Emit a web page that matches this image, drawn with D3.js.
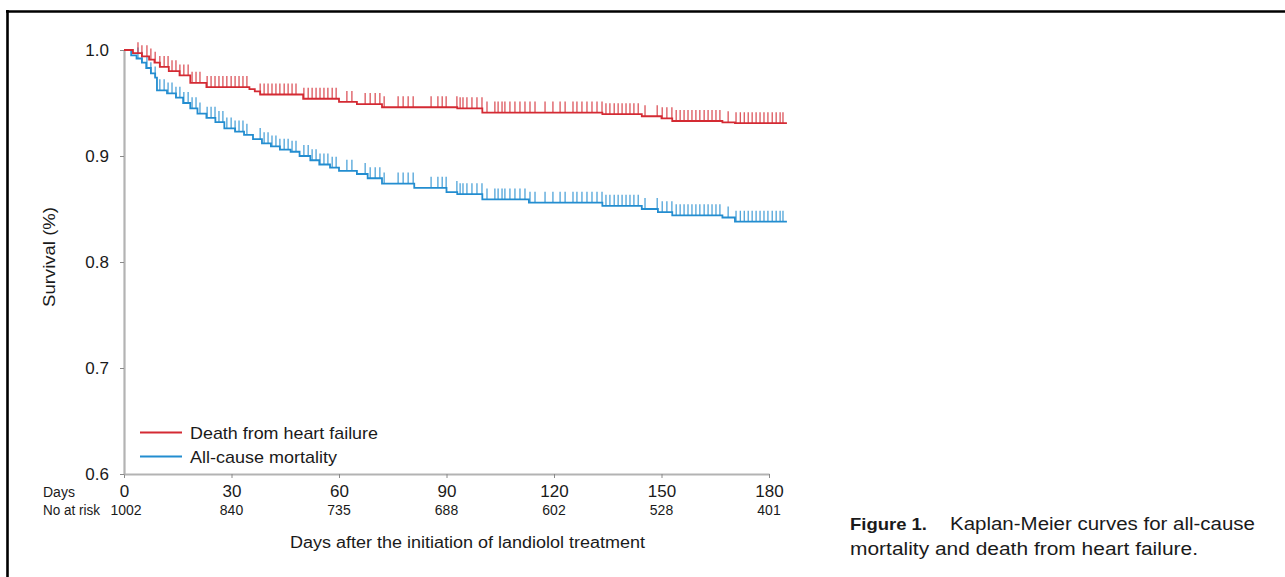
<!DOCTYPE html>
<html>
<head>
<meta charset="utf-8">
<script src="https://cdn.jsdelivr.net/npm/d3@7"></script>
<style>
  html, body { margin: 0; padding: 0; background: #fff; }
  svg { display: block; }
  text { font-family: "Liberation Sans", Arial, Helvetica, sans-serif; fill: #1a1a1a; }
</style>
</head>
<body>
<svg id="chart" width="1285" height="577"></svg>
<script>
// ---------------- DATA ----------------
const xTicks = [0, 30, 60, 90, 120, 150, 180];
const yTicks = [0.6, 0.7, 0.8, 0.9, 1.0];
const atRisk = [1002, 840, 735, 688, 602, 528, 401];
const endDay = 185;

// Death from heart failure: step times (days) and survival after each step
const hfTimes = [0, 2.5, 5, 7, 8.5, 10, 12.5, 15.5, 18.5, 23, 35, 36.5, 38, 50, 60, 65, 72, 93, 100, 133.5, 144.5, 150, 153, 167, 170.5];
const hfSurv  = [1.0, 0.997, 0.994, 0.991, 0.988, 0.984, 0.980, 0.976, 0.969, 0.965, 0.963, 0.961, 0.958, 0.954, 0.951, 0.949, 0.946, 0.945, 0.941, 0.9395, 0.9375, 0.9355, 0.933, 0.9318, 0.931];

// All-cause mortality
const acTimes = [0, 2, 3.5, 5, 6.2, 7.5, 8.7, 9.2, 12, 14.5, 16.5, 18.5, 20.5, 23, 25.5, 28, 31, 33.5, 36, 38.5, 41, 43.5, 46.5, 49, 52, 54.5, 57.5, 60, 65, 68, 72, 81, 90, 93, 100, 113, 133.5, 144.5, 149, 153, 167, 170.5];
const acSurv  = [1.0, 0.995, 0.992, 0.988, 0.983, 0.978, 0.974, 0.962, 0.959, 0.955, 0.950, 0.945, 0.940, 0.936, 0.932, 0.926, 0.923, 0.920, 0.916, 0.912, 0.909, 0.906, 0.904, 0.900, 0.896, 0.892, 0.889, 0.886, 0.883, 0.879, 0.874, 0.870, 0.866, 0.864, 0.859, 0.856, 0.853, 0.850, 0.847, 0.844, 0.842, 0.838];

// Censoring times (days), shared by both curves
const censorTimes = [3.9, 5.0, 6.4, 7.5, 8.7,
  10.0, 11.2, 12.3, 13.4, 14.5, 15.6, 16.7, 17.9, 19.0, 20.1, 21.2,
  23.2, 24.3, 25.4, 26.5, 27.6, 28.7, 29.9, 31.0, 32.1, 33.2, 34.3,
  38.0, 39.1, 40.2, 41.3, 42.4, 43.5, 44.7, 45.8, 46.9, 48.0,
  50.2, 51.4, 52.5, 53.6, 54.7, 55.8, 56.9, 58.1, 59.2,
  62.2, 63.6, 67.3, 68.7, 70.1, 71.4, 72.6,
  76.5, 77.9, 79.3, 80.7, 85.7, 87.6, 88.8, 89.9,
  92.9, 93.8, 94.6, 95.7, 97.1, 98.5, 99.9,
  101.3, 103.5, 104.4, 105.5, 106.3, 107.7, 109.1, 110.5, 111.9, 113.3, 114.7,
  117.5, 119.7, 121.7, 123.1, 125.3, 126.4, 127.8, 129.2, 130.6, 132.0, 133.4,
  134.5, 135.6, 136.8, 137.9, 139.0, 140.1, 141.2, 142.3, 143.5,
  145.4, 148.8, 150.2, 151.5, 152.9,
  154.1, 155.2, 156.3, 157.4, 158.5, 159.6, 160.7, 161.9, 163.0, 164.1, 165.2, 166.3,
  168.6, 170.8, 172.0, 173.1, 174.2, 175.3, 176.4, 177.5, 178.6, 179.7, 180.9, 182.0, 183.1, 183.9];

const seriesNames = ["Death from heart failure", "All-cause mortality"];
const seriesColors = ["#d42a33", "#238dd0"];

// ---------------- CHART ----------------
const svg = d3.select("#chart");
const x = d3.scaleLinear().domain([0, 180]).range([124, 769]);
const y = d3.scaleLinear().domain([0.6, 1.0]).range([474, 50]);

// frame (top + left borders)
svg.append("line").attr("x1", 6).attr("x2", 1285).attr("y1", 11.5).attr("y2", 11.5)
  .attr("stroke", "#000").attr("stroke-width", 2.6);
svg.append("line").attr("x1", 7.5).attr("x2", 7.5).attr("y1", 10).attr("y2", 577)
  .attr("stroke", "#000").attr("stroke-width", 2.6);

// axes
const gx = svg.append("g").attr("transform", `translate(0,${y(0.6)})`)
  .call(d3.axisBottom(x).tickValues(xTicks).tickSize(4).tickSizeOuter(0).tickPadding(7).tickFormat(d3.format("d")));
const gy = svg.append("g").attr("transform", `translate(${x(0)},0)`)
  .call(d3.axisLeft(y).tickValues(yTicks).tickSize(4).tickSizeOuter(0).tickPadding(11).tickFormat(d3.format(".1f")));
[gx, gy].forEach(g => {
  g.select(".domain").attr("stroke", "#b3b3b3").attr("stroke-width", 2.2);
  g.selectAll(".tick line").attr("stroke", "#8a8a8a").attr("stroke-width", 1);
  g.selectAll(".tick text").attr("font-size", 17).attr("fill", "#1a1a1a")
    .attr("font-family", '"Liberation Sans", Arial, sans-serif');
});

// step-function helper
function survAt(times, surv, t) {
  let s = surv[0];
  for (let i = 0; i < times.length; i++) { if (times[i] <= t) s = surv[i]; else break; }
  return s;
}

const series = [
  { times: hfTimes, surv: hfSurv, color: seriesColors[0] },
  { times: acTimes, surv: acSurv, color: seriesColors[1] }
];

const line = d3.line().x(d => x(d[0])).y(d => y(d[1])).curve(d3.curveStepAfter);

// draw all-cause first then heart failure on top
[series[1], series[0]].forEach(s => {
  const pts = s.times.map((t, i) => [t, s.surv[i]]);
  pts.push([endDay, s.surv[s.surv.length - 1]]);
  const g = svg.append("g");
  g.selectAll("line.cens").data(censorTimes).enter().append("line")
    .attr("class", "cens")
    .attr("x1", d => x(d)).attr("x2", d => x(d))
    .attr("y1", d => y(survAt(s.times, s.surv, d)))
    .attr("y2", d => y(survAt(s.times, s.surv, d)) - 11)
    .attr("stroke", s.color).attr("stroke-width", 1.3).attr("opacity", 0.8);
  g.append("path").datum(pts).attr("d", line)
    .attr("fill", "none").attr("stroke", s.color).attr("stroke-width", 1.8);
});

// legend
const legY = [432.5, 456.5];
seriesNames.forEach((name, i) => {
  svg.append("line").attr("x1", 140).attr("x2", 182).attr("y1", legY[i]).attr("y2", legY[i])
    .attr("stroke", seriesColors[i]).attr("stroke-width", 2.2);
  svg.append("text").attr("x", 190).attr("y", legY[i] + 6).attr("font-size", 17)
    .attr("textLength", i === 0 ? 188 : 147).attr("lengthAdjust", "spacingAndGlyphs")
    .text(name);
});

// risk table
svg.append("text").attr("x", 43).attr("y", 497).attr("font-size", 14).text("Days");
svg.append("text").attr("x", 43).attr("y", 515).attr("font-size", 14)
  .attr("textLength", 57).attr("lengthAdjust", "spacingAndGlyphs").text("No at risk");
svg.selectAll("text.risk").data(atRisk).enter().append("text")
  .attr("class", "risk")
  .attr("x", (d, i) => x(xTicks[i]) + (i === 0 ? 2 : 0)).attr("y", 515)
  .attr("text-anchor", "middle").attr("font-size", 14).text(d => d);

// axis titles
svg.append("text").attr("x", 467.5).attr("y", 548).attr("text-anchor", "middle")
  .attr("font-size", 16).attr("textLength", 355).attr("lengthAdjust", "spacingAndGlyphs")
  .text("Days after the initiation of landiolol treatment");
svg.append("text").attr("transform", "translate(55,257) rotate(-90)").attr("text-anchor", "middle")
  .attr("font-size", 16).attr("textLength", 100).attr("lengthAdjust", "spacingAndGlyphs")
  .text("Survival (%)");

// caption
svg.append("text").attr("x", 850).attr("y", 530).attr("font-size", 17).attr("font-weight", "bold")
  .attr("font-family", '"Liberation Sans Narrow", "DejaVu Sans Condensed", "Liberation Sans", sans-serif')
  .attr("textLength", 77).attr("lengthAdjust", "spacingAndGlyphs").attr("fill", "#000")
  .text("Figure 1.");
svg.append("text").attr("x", 950).attr("y", 530).attr("font-size", 17.5).attr("fill", "#222")
  .attr("textLength", 305).attr("lengthAdjust", "spacingAndGlyphs")
  .text("Kaplan-Meier curves for all-cause");
svg.append("text").attr("x", 850).attr("y", 555).attr("font-size", 17.5).attr("fill", "#222")
  .attr("textLength", 348).attr("lengthAdjust", "spacingAndGlyphs")
  .text("mortality and death from heart failure.");
</script>
</body>
</html>
